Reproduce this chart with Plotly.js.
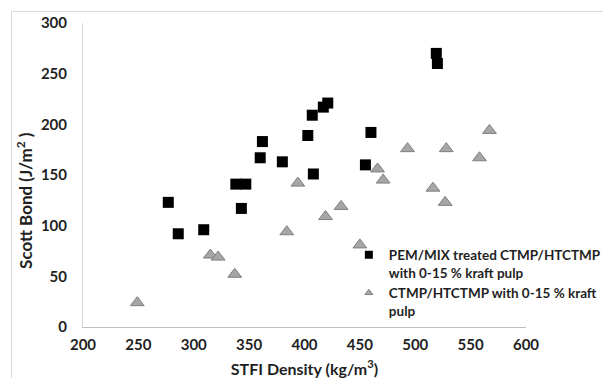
<!DOCTYPE html>
<html>
<head>
<meta charset="utf-8">
<script src="https://cdn.plot.ly/plotly-3.0.1.min.js"></script>
<style>
  html, body { margin: 0; padding: 0; background: #ffffff; overflow: hidden; }
  #wrap { position: relative; width: 603px; height: 378px; }
  #chart { position: absolute; left: 0; top: 0; width: 603px; height: 378px; }
  #frame {
    position: absolute; left: 11px; top: 11px; width: 700px; height: 500px;
    border-top: 1px solid #d9d9d9; border-left: 1px solid #d9d9d9;
    pointer-events: none;
  }
</style>
</head>
<body>
<div id="wrap">
  <div id="chart"></div>
  <div id="frame"></div>
</div>
<script>
// STFI density (kg/m3) and Scott bond (J/m2) for each pulp sample
const pemDensity = [277, 286, 309, 338, 347, 343, 360, 362, 380, 403, 407, 408, 417, 421, 455, 460, 519, 520];
const pemScott   = [123,  92,  96, 141, 141, 117, 167, 183, 163, 189, 209, 151, 217, 221, 160, 192, 270, 260];

const refDensity = [249, 315, 322, 337, 384, 394, 419, 433, 450, 466, 471, 493, 516, 527, 528, 558, 567];
const refScott   = [ 24,  71,  69,  52,  94, 142, 109, 119,  81, 156, 145, 176, 137, 123, 176, 167, 194];

const seriesNames = [
  'PEM/MIX treated CTMP/HTCTMP<br>with 0-15 % kraft pulp',
  'CTMP/HTCTMP with 0-15 % kraft<br>pulp'
];

const xTicks = [200, 250, 300, 350, 400, 450, 500, 550, 600];
const yTicks = [0, 50, 100, 150, 200, 250, 300];

const FONT = 'Lato, "Open Sans", sans-serif';
const TXT = '#1f1f1f';
const boldFont = (size) => ({ family: FONT, size: size, color: TXT, weight: 700 });

const squareMarker = { symbol: 'square', size: 11, color: '#000000', line: { width: 0 } };
const triMarker = { symbol: 'triangle-up', size: 12, color: '#a6a6a6', line: { color: '#7f7f7f', width: 1 } };

const traces = [
  { x: pemDensity, y: pemScott, type: 'scatter', mode: 'markers', marker: squareMarker,
    showlegend: false, legendgroup: 'pem' },
  { x: refDensity, y: refScott, type: 'scatter', mode: 'markers', marker: triMarker,
    showlegend: false, legendgroup: 'ref' },
  // legend keys, drawn with smaller symbols than the plotted points
  { x: [null], y: [null], type: 'scatter', mode: 'markers', name: seriesNames[0], legendgroup: 'pem',
    marker: Object.assign({}, squareMarker, { size: 8 }) },
  { x: [null], y: [null], type: 'scatter', mode: 'markers', name: seriesNames[1], legendgroup: 'ref',
    marker: Object.assign({}, triMarker, { size: 7 }) }
];

const layout = {
  width: 603,
  height: 378,
  margin: { l: 83, r: 77, t: 23, b: 51, pad: 0, autoexpand: false },
  paper_bgcolor: 'rgba(0,0,0,0)',
  plot_bgcolor: 'rgba(0,0,0,0)',
  font: { family: FONT, color: TXT },
  xaxis: {
    range: [200, 600],
    tickvals: xTicks,
    ticktext: xTicks.map(String),
    showgrid: false,
    zeroline: false,
    showline: true,
    linecolor: '#bfbfbf',
    linewidth: 1,
    ticks: '',
    ticklabelstandoff: 4,
    tickfont: boldFont(15),
    title: { text: 'STFI Density (kg/m<sup>3</sup>)', standoff: 11, font: boldFont(16) }
  },
  yaxis: {
    range: [0, 300],
    tickvals: yTicks,
    ticktext: yTicks.map(String),
    showgrid: false,
    zeroline: false,
    showline: true,
    linecolor: '#d9d9d9',
    linewidth: 1,
    ticks: '',
    ticklabelstandoff: 12,
    tickfont: boldFont(15)
  },
  // y-axis title sits a little below the middle of the axis
  annotations: [{
    text: 'Scott Bond (J/m<sup>2</sup> )',
    xref: 'paper', yref: 'paper',
    x: -0.131, y: 0.418,
    xanchor: 'center', yanchor: 'middle',
    textangle: -90,
    showarrow: false,
    font: boldFont(17)
  }],
  legend: {
    x: 0.634, y: 0.288, xanchor: 'left', yanchor: 'top',
    bgcolor: 'rgba(0,0,0,0)',
    valign: 'top',
    indentation: -15,
    tracegroupgap: 0,
    font: boldFont(13.5)
  },
  showlegend: true
};

Plotly.newPlot('chart', traces, layout, { displayModeBar: false, staticPlot: true });
</script>
</body>
</html>
